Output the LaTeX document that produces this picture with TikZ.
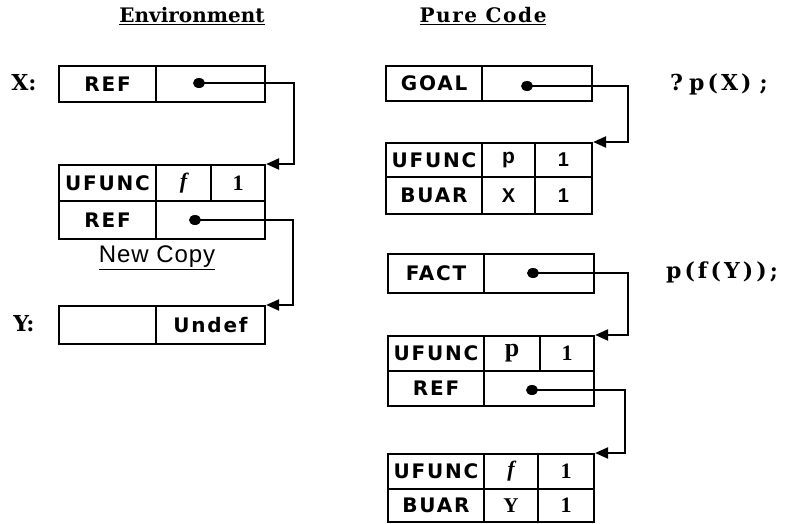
\documentclass[tikz,border=0pt]{standalone}
\usepackage{fontspec}
\setmainfont{DejaVu Serif}
\newfontfamily\cellfont[LetterSpace=9]{DejaVu Sans}
\newfontfamily\sansval{Liberation Sans}
\newfontfamily\serifval{Liberation Serif}
\newfontfamily\envfont{DejaVu Serif}
\newfontfamily\pcfont[LetterSpace=8]{DejaVu Serif}
\newfontfamily\codefont[LetterSpace=14]{DejaVu Serif}
\newfontfamily\notefont[LetterSpace=4]{Liberation Sans}
\usetikzlibrary{arrows.meta,shapes.geometric}

\begin{document}
\begin{tikzpicture}[x=1pt,y=-1pt,
  cell/.style={draw, line width=2.1pt, anchor=north west, inner sep=0pt,
    minimum height=36pt, font=\cellfont\bfseries\fontsize{20}{20}\selectfont},
  dot/.style={fill, ellipse, minimum width=12pt, minimum height=10pt, inner sep=0pt},
  ptr/.style={line width=2.1pt, -{Triangle[length=13pt,width=11pt]}},
  code/.style={font=\codefont\bfseries\fontsize{22}{22}\selectfont},
  varlab/.style={font=\bfseries\fontsize{22}{22}\selectfont}]
\useasboundingbox (0,0) rectangle (788,523);

% ---------- Environment ----------
\node[font=\envfont\bfseries\fontsize{20}{20}\selectfont] (envtitle) at (192,16) {\underline{Environment}};
\node[varlab] (xlab) at (24,83) {X:};
\node[cell, minimum width=97pt] (xa) at (58,65) {REF};
\node[cell, minimum width=109pt] (xb) at (155,65) {};
\node[dot] (dx) at (199,83) {};

\node[cell, minimum width=97pt] (ea1) at (58,164) {UFUNC};
\node[cell, minimum width=55pt] (ea2) at (155,164) {\serifval\itshape\bfseries\fontsize{22}{22}\selectfont f};
\node[cell, minimum width=54pt] (ea3) at (210,164) {\serifval\bfseries\fontsize{22}{22}\selectfont 1};
\node[cell, minimum width=97pt, minimum height=38pt] (eb1) at (58,200) {REF};
\node[cell, minimum width=109pt, minimum height=38pt] (eb2) at (155,200) {};
\node[dot] (de) at (195,220) {};

\node[font=\notefont\fontsize{24}{24}\selectfont] (newcopy) at (157,258) {\underline{New Copy}};

\node[varlab] (ylab) at (24,324) {Y:};
\node[cell, minimum width=97pt, minimum height=38pt] (ya) at (58,305) {};
\node[cell, minimum width=109pt, minimum height=38pt] (yb) at (155,305) {Undef};

\draw[ptr] (dx.center) -- ++(95,0) |- (ea3.north east);
\draw[ptr] (de.center) -- ++(98,0) |- (yb.north east);

% ---------- Pure Code ----------
\node[font=\pcfont\bfseries\fontsize{20}{20}\selectfont] (pctitle) at (483,16) {\underline{Pure Code}};

\node[cell, minimum width=96pt, minimum height=35pt] (ga) at (385,65) {GOAL};
\node[cell, minimum width=110pt, minimum height=35pt] (gb) at (481,65) {};
\node[dot] (dg) at (527,86) {};
\node[code] (goaltext) at (719,84) {?\hspace{6pt}p(X)\hspace{8pt};};

\node[cell, minimum width=96pt, minimum height=34pt] (pa1) at (385,142) {UFUNC};
\node[cell, minimum width=53pt, minimum height=34pt] (pa2) at (481,142) {\sansval\fontsize{21}{21}\selectfont p};
\node[cell, minimum width=57pt, minimum height=34pt] (pa3) at (534,142) {\sansval\bfseries\fontsize{20}{20}\selectfont 1};
\node[cell, minimum width=96pt, minimum height=37pt] (pb1) at (385,176) {BUAR};
\node[cell, minimum width=53pt, minimum height=37pt] (pb2) at (481,176) {\sansval\fontsize{20}{20}\selectfont X};
\node[cell, minimum width=57pt, minimum height=37pt] (pb3) at (534,176) {\sansval\bfseries\fontsize{20}{20}\selectfont 1};

\node[cell, minimum width=96pt, minimum height=39pt] (fa) at (387,253) {FACT};
\node[cell, minimum width=110pt, minimum height=39pt] (fb) at (483,253) {};
\node[dot] (df) at (533,273) {};
\node[code] (facttext) at (722,272) {p(f(Y));};

\node[cell, minimum width=96pt, minimum height=35pt] (qa1) at (387,335) {UFUNC};
\node[cell, minimum width=56pt, minimum height=35pt] (qa2) at (483,335) {\serifval\fontsize{26}{26}\selectfont p};
\node[cell, minimum width=54pt, minimum height=35pt] (qa3) at (539,335) {\serifval\bfseries\fontsize{22}{22}\selectfont 1};
\node[cell, minimum width=96pt, minimum height=35pt] (qb1) at (387,370) {REF};
\node[cell, minimum width=110pt, minimum height=35pt] (qb2) at (483,370) {};
\node[dot] (dq) at (532,390) {};

\node[cell, minimum width=96pt, minimum height=35pt] (ra1) at (387,453) {UFUNC};
\node[cell, minimum width=54pt, minimum height=35pt] (ra2) at (483,453) {\serifval\itshape\bfseries\fontsize{22}{22}\selectfont f};
\node[cell, minimum width=56pt, minimum height=35pt] (ra3) at (537,453) {\serifval\bfseries\fontsize{22}{22}\selectfont 1};
\node[cell, minimum width=96pt, minimum height=33pt] (rb1) at (387,488) {BUAR};
\node[cell, minimum width=54pt, minimum height=33pt] (rb2) at (483,488) {\serifval\bfseries\fontsize{21}{21}\selectfont Y};
\node[cell, minimum width=56pt, minimum height=33pt] (rb3) at (537,488) {\serifval\bfseries\fontsize{22}{22}\selectfont 1};

\draw[ptr] (dg.center) -- ++(101,0) |- (pa3.north east);
\draw[ptr] (df.center) -- ++(95,0) |- (qa3.north east);
\draw[ptr] (dq.center) -- ++(93,0) |- (ra3.north east);
\end{tikzpicture}
\end{document}
